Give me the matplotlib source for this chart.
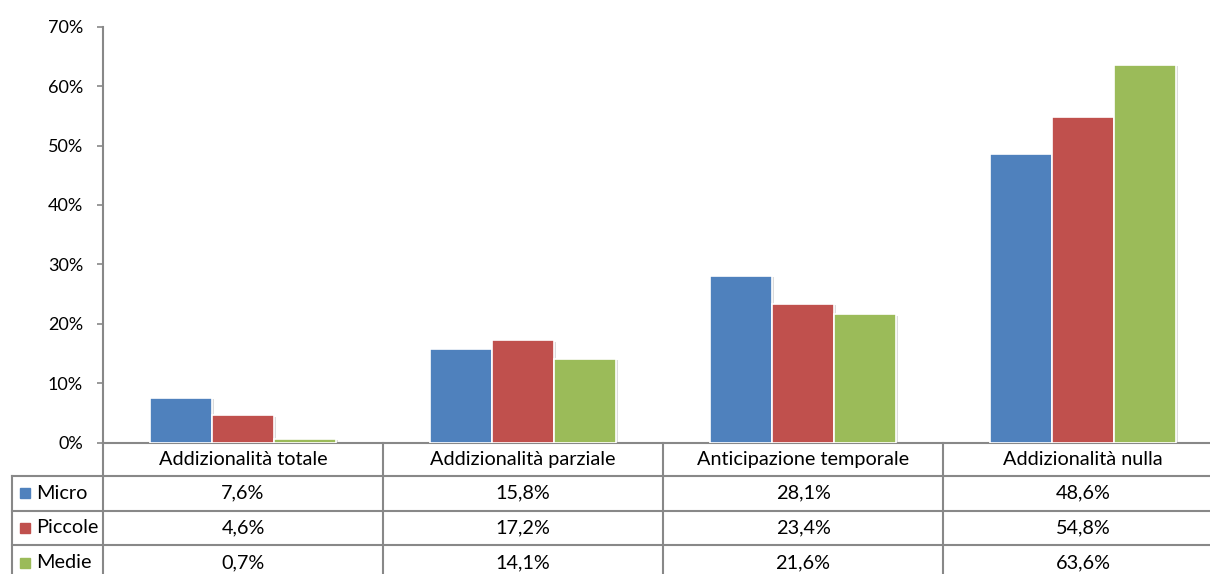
import numpy as np
import matplotlib.pyplot as plt
import matplotlib.patheffects as pe
import matplotlib.transforms as mtransforms

plt.rcParams['font.family'] = ['Lato', 'DejaVu Sans']

categorie = ['Addizionalità totale', 'Addizionalità parziale',
             'Anticipazione temporale', 'Addizionalità nulla']
serie = ['Micro', 'Piccole', 'Medie']
micro = [7.6, 15.8, 28.1, 48.6]
piccole = [4.6, 17.2, 23.4, 54.8]
medie = [0.7, 14.1, 21.6, 63.6]
colori = ['#4F81BD', '#C0504D', '#9BBB59']

valori = [micro, piccole, medie]
grigio = '#888888'

fig = plt.figure(figsize=(12.1, 5.74), dpi=100)
ax = fig.add_axes([103 / 1210, 1 - 442.7 / 574, 1120 / 1210, 416 / 574])

x = np.arange(len(categorie))
w = 1 / 4.5
ombra = [pe.SimplePatchShadow(offset=(1.5, -1), shadow_rgbFace='#999999', alpha=0.35), pe.Normal()]
for i, (nome, vals) in enumerate(zip(serie, valori)):
    bars = ax.bar(x + (i - 1) * w, vals, w, color=colori[i], edgecolor='white',
                  linewidth=1.2, zorder=3)
    for b in bars:
        b.set_path_effects(ombra)

ax.set_xlim(-0.5, 3.5)
ax.set_ylim(0, 70)
ax.set_yticks(range(0, 71, 10))
ax.set_yticklabels([f'{v}%' for v in range(0, 71, 10)])
ax.set_xticks([])
ax.tick_params(axis='y', length=4.3, width=1.2, color=grigio, labelsize=13, pad=10)
for s in ['top', 'right']:
    ax.spines[s].set_visible(False)
ax.spines['left'].set_color(grigio)
ax.spines['bottom'].set_color(grigio)
ax.spines['left'].set_linewidth(1.5)
ax.spines['bottom'].set_linewidth(1.5)

# tabella dati sotto il grafico
trans = mtransforms.blended_transform_factory(ax.transData, ax.transAxes)
h_head = 0.079
h_row = 0.084
fs = 14.3
y_head = -h_head
y_rows = [y_head - h_row * (k + 1) for k in range(len(serie))]
y_bot = y_rows[-1] - 0.05
x_left = -0.5 - 91 / 280

kw = dict(color=grigio, lw=1.5, transform=trans, clip_on=False)
for xe in np.arange(-0.5, 4.0, 1.0):
    ax.plot([xe, xe], [0, y_bot], **kw)
ax.plot([x_left, x_left], [y_head, y_bot], **kw)
for yy in [y_head] + y_rows[:-1]:
    ax.plot([x_left, 3.6], [yy, yy], **kw)

for j, c in enumerate(categorie):
    ax.text(j, y_head / 2, c, transform=trans, ha='center', va='center', fontsize=fs)
for i, nome in enumerate(serie):
    yc = (y_head if i == 0 else y_rows[i - 1]) - h_row / 2
    ax.plot([x_left + 0.045], [yc], marker='s', ms=7, color=colori[i],
            transform=trans, clip_on=False)
    ax.text(x_left + 0.085, yc, nome, transform=trans, ha='left', va='center', fontsize=fs)
    for j in range(len(categorie)):
        ax.text(j, yc, f'{valori[i][j]:.1f}%'.replace('.', ','), transform=trans,
                ha='center', va='center', fontsize=fs)

fig.savefig('out.png', dpi=100)
